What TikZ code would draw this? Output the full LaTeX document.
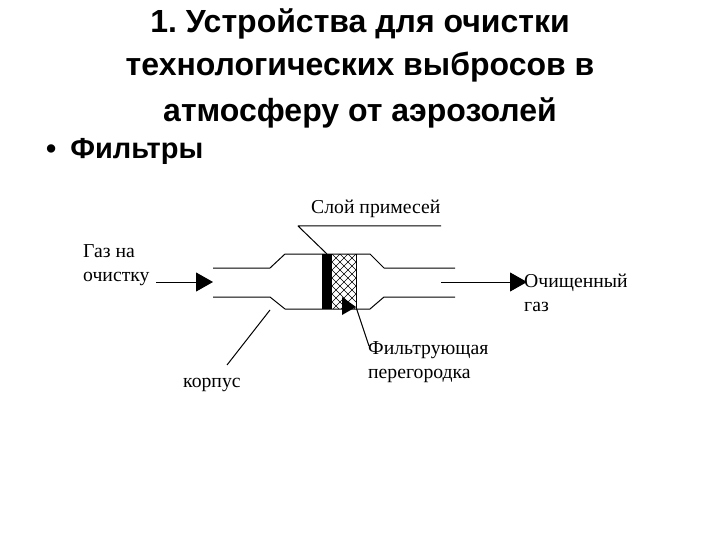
\documentclass[tikz,border=0pt]{standalone}
\usepackage{fontspec}
\setmainfont{Liberation Serif}
\newfontfamily\headfont{Liberation Sans}
\usetikzlibrary{arrows.meta}
\frenchspacing
\tikzset{
	headtext/.style={font=\headfont\bfseries\fontsize{32}{32}\selectfont, inner sep=0pt},
	listtext/.style={font=\headfont\bfseries\fontsize{29}{29}\selectfont, inner sep=0pt},
	labeltext/.style={font=\fontsize{19.7}{23.5}\selectfont, inner sep=0pt, align=left},
	flowarrow/.style={line width=1pt, -{Triangle[length=17pt, width=19pt]}},
	thinline/.style={line width=1pt}
}
\begin{document}
\begin{tikzpicture}[x=1pt, y=-1pt, line join=round]
	\useasboundingbox (0,0) rectangle (720,540);
	\path
	(213,268) coordinate (A1)
	(270,268) coordinate (A2)
	(285,254) coordinate (A3)
	(370,254) coordinate (A4)
	(384,268) coordinate (A5)
	(455,268) coordinate (A6)
	(213,297) coordinate (B1)
	(270,297) coordinate (B2)
	(285,309) coordinate (B3)
	(370,309) coordinate (B4)
	(384,297) coordinate (B5)
	(455,297) coordinate (B6)
	(441,226) coordinate (C1)
	(298,226) coordinate (C2)
	(327,254) coordinate (C3)
	(270,310) coordinate (K1)
	(227,365) coordinate (K2)
	(156,282) coordinate (I1)
	(213,282) coordinate (I2)
	(441,282) coordinate (O1)
	(527,282) coordinate (O2)
	(342,297) coordinate (F1)
	(342,315) coordinate (F2)
	(356,307) coordinate (F3)
	(369,346) coordinate (F4);
	\node[headtext] (title1) at (360,24) {1. Устройства для очистки};
	\node[headtext] (title2) at (360,67) {технологических выбросов в};
	\node[headtext] (title3) at (360,113) {атмосферу от аэрозолей};
	\node[listtext, anchor=west] (bullet) at (46,151) {•\hspace{14pt}Фильтры};
	\node[labeltext, anchor=west] (sloy) at (311,209) {Слой примесей};
	\node[labeltext, anchor=west] (gazin) at (83,265) {Газ на\\очистку};
	\node[labeltext, anchor=west] (gazout) at (524,293) {Очищенный\\газ};
	\node[labeltext, anchor=west] (filtr) at (368,362) {Фильтрующая\\перегородка};
	\node[labeltext, anchor=west] (korpus) at (183,385) {корпус};
	\begin{scope}
		\clip (332,254) rectangle (356,309);
		\foreach \k in {-64,-56,...,40}
		{\draw[line width=0.5pt] (332+\k,254) -- (332+\k+55,309);
		\draw[line width=0.5pt] (332-\k,254) -- (332-\k-55,309);}
	\end{scope}
	\draw[thinline] (A1) -- (A2) -- (A3) -- (A4) -- (A5) -- (A6);
	\draw[thinline] (B1) -- (B2) -- (B3) -- (B4) -- (B5) -- (B6);
	\draw[thinline] (356,254) -- (356,309);
	\fill (322,254) rectangle (332,309);
	\draw[thinline] (C1) -- (C2) -- (C3);
	\draw[thinline] (K1) -- (K2);
	\draw[flowarrow] (I1) -- (I2);
	\draw[flowarrow] (O1) -- (O2);
	\fill (F1) -- (F2) -- (F3) -- cycle;
	\draw[thinline] (F3) -- (F4);
\end{tikzpicture}
\end{document}
